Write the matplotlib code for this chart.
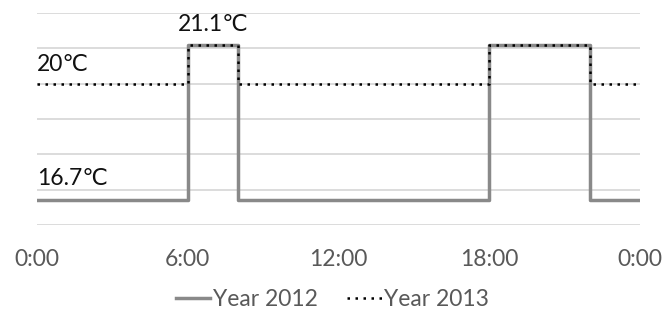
import matplotlib.pyplot as plt

# step data: temperature set-points over a day (hours)
hours = [0, 6, 8, 18, 22, 24]
temp_2012 = [16.7, 21.1, 16.7, 21.1, 16.7, 16.7]
temp_2013 = [20.0, 21.1, 20.0, 21.1, 20.0, 20.0]
tick_hours = [0, 6, 12, 18, 24]
tick_labels = ["0:00", "6:00", "12:00", "18:00", "0:00"]

plt.rcParams['font.family'] = ['Lato', 'DejaVu Sans']

fig = plt.figure(figsize=(6.65, 3.18), dpi=100)
ax = fig.add_axes([0.0556, 0.2925, 0.9068, 0.6665])

ax.step(hours, temp_2012, where='post', color='#898989', lw=2.5, label='Year 2012')
ax.step(hours, temp_2013, where='post', color='black', lw=1.8,
        linestyle=(0, (1, 2.2)), label='Year 2013')

ax.set_xlim(0, 24)
ax.set_ylim(16, 22)
ax.set_yticks(range(16, 23))
ax.yaxis.grid(True, color='#d9d9d9', lw=1.3)
ax.set_axisbelow(True)
ax.tick_params(axis='y', left=False, labelleft=False)
ax.set_xticks(tick_hours)
ax.set_xticklabels(tick_labels)
ax.tick_params(axis='x', bottom=False, labelsize=16.5, colors='#595959', pad=14)
for s in ax.spines.values():
    s.set_visible(False)

# value labels
ax.text(0, 20.37, "20\u2103", fontsize=16.5, color='#111111', ha='left', va='baseline')
ax.text(0, 17.13, "16.7\u2103", fontsize=16.5, color='#111111', ha='left', va='baseline')
ax.text(7, 21.48, "21.1\u2103", fontsize=16.5, color='#111111', ha='center', va='baseline')

fig.legend(loc='lower center', bbox_to_anchor=(0.5, -0.04), ncol=2, frameon=False,
           fontsize=16.5, labelcolor='#595959', handlelength=1.5, handletextpad=0.1,
           columnspacing=1.3)

fig.savefig('out.png', dpi=100)
